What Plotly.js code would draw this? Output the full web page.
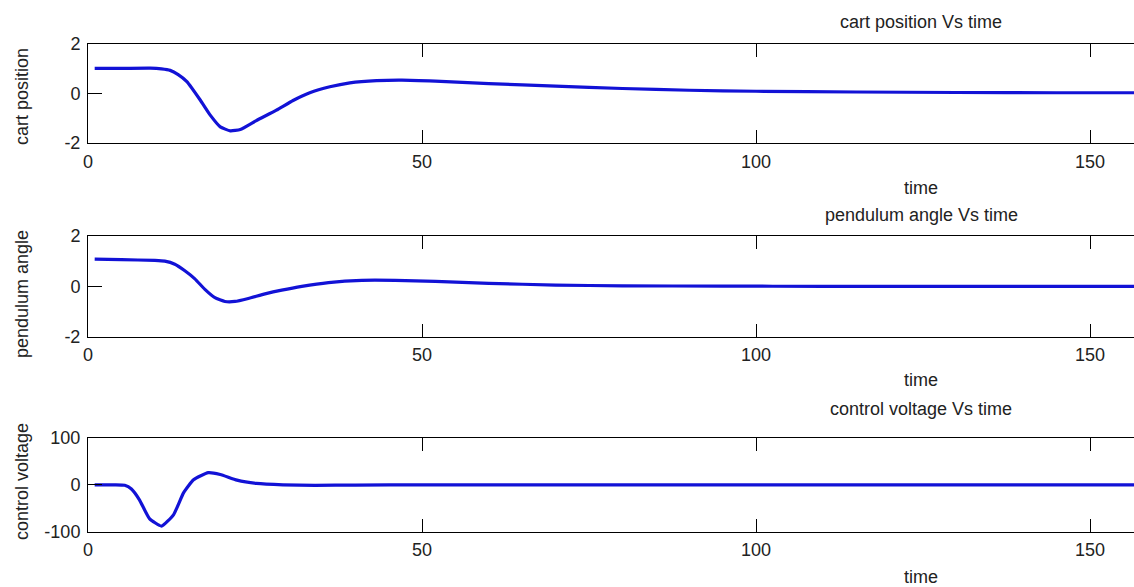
<!DOCTYPE html>
<html>
<head>
<meta charset="utf-8">
<script src="https://cdn.plot.ly/plotly-3.0.1.min.js"></script>
<style>html,body{margin:0;padding:0;background:#fff;overflow:hidden}</style>
</head>
<body>
<div id="chart" style="width:1134px;height:587px"></div>
<script>
// Cart position
const tCart = [1,5,9.3,11,12.3,13.5,14.8,16.8,18.3,19.8,21.3,22.8,25.2,28.2,30.7,33.2,36.2,39.2,43.2,47,52,60,70,80,90,100,115,130,145,157];
const cartPosition = [1,1,1.01,0.98,0.92,0.75,0.47,-0.27,-0.88,-1.35,-1.51,-1.46,-1.1,-0.68,-0.29,0.02,0.26,0.42,0.51,0.53,0.49,0.39,0.29,0.19,0.12,0.08,0.05,0.03,0.02,0.02];
// Pendulum angle
const tPend = [1,5,10,11.5,13,14.5,16,17.5,19,20.5,22,24,26.5,29,32,36,41,46,52,60,70,80,95,110,130,157];
const pendulumAngle = [1.08,1.06,1.03,1.0,0.88,0.62,0.3,-0.12,-0.45,-0.6,-0.6,-0.48,-0.3,-0.15,0.0,0.15,0.24,0.24,0.2,0.12,0.05,0.02,0.01,0,0,0];
// Control voltage
const tVolt = [1,4,5.5,6.5,7.7,9.2,11,12.8,14.3,15.8,18,19.8,22.3,25.2,29.2,34,40,50,70,100,157];
const controlVoltage = [0,0,-1,-9,-32,-72,-88,-64,-17,11,26,22,10,3,0,-1,-0.5,0,0,0,0];

const xTicks = [0,50,100,150];
const yTicksAngle = [-2,0,2];
const yTickTextAngle = ["-2","0","2"];
const yTicksVolt = [-100,0,100];
const yTickTextVolt = ["-100","0","100"];

const titles = ["cart position Vs time","pendulum angle Vs time","control voltage Vs time"];
const yTitles = ["cart position","pendulum angle","control voltage"];
const xTitle = "time";

const W = 1134, H = 587;
const lineStyle = {color:'#1212d6', width:3.2, shape:'spline', smoothing:0.45};
const font = {family:'Liberation Sans, Arial, sans-serif', size:18, color:'#222'};

const traces = [
  {x:tCart, y:cartPosition, xaxis:'x', yaxis:'y', mode:'lines', line:lineStyle, hoverinfo:'skip'},
  {x:tPend, y:pendulumAngle, xaxis:'x2', yaxis:'y2', mode:'lines', line:lineStyle, hoverinfo:'skip'},
  {x:tVolt, y:controlVoltage, xaxis:'x3', yaxis:'y3', mode:'lines', line:lineStyle, hoverinfo:'skip'}
];

function py(px){return 1-px/H;}
const domains = [[py(143),py(43.5)],[py(336.7),py(236)],[py(531.7),py(438)]];
const xmax = (W-88)/(334/50);

function xa(anchor){
  return {range:[0,xmax], tickvals:xTicks, ticks:'inside', ticklen:13, tickcolor:'#000',
    showline:true, linecolor:'#000', linewidth:1, mirror:'allticks', showgrid:false, zeroline:false,
    anchor:anchor, tickfont:font, ticklabelstandoff:2, fixedrange:true};
}
function ya(dom, range, tv, tt, anchor){
  return {domain:dom, range:range, tickvals:tv, ticktext:tt, ticks:'inside', ticklen:14, tickcolor:'#000',
    showline:true, linecolor:'#000', linewidth:1, showgrid:false, zeroline:false,
    anchor:anchor, tickfont:font, ticklabelstandoff:3, fixedrange:true};
}

const annotations = [];
const titleY = [22, 215, 409];
const xTitleY = [188, 380, 577];
const yTitleY = [97, 294, 482];
for(let i=0;i<3;i++){
  annotations.push({text:titles[i], xref:'paper', yref:'paper', x:(921-88)/(W-88), y:py(titleY[i]), showarrow:false, font:font, xanchor:'center', yanchor:'middle'});
  annotations.push({text:xTitle, xref:'paper', yref:'paper', x:(921-88)/(W-88), y:py(xTitleY[i]), showarrow:false, font:font, xanchor:'center', yanchor:'middle'});
  annotations.push({text:yTitles[i], xref:'paper', yref:'paper', x:(22-88)/(W-88), y:py(yTitleY[i]), showarrow:false, font:font, textangle:-90, xanchor:'center', yanchor:'middle'});
}

const layout = {
  width:W, height:H, margin:{l:88, r:0, t:0, b:0},
  paper_bgcolor:'#fff', plot_bgcolor:'#fff', showlegend:false,
  font:font,
  xaxis: xa('y'), xaxis2: xa('y2'), xaxis3: xa('y3'),
  yaxis: ya(domains[0], [-2,2], yTicksAngle, yTickTextAngle, 'x'),
  yaxis2: ya(domains[1], [-2,2], yTicksAngle, yTickTextAngle, 'x2'),
  yaxis3: ya(domains[2], [-100,100], yTicksVolt, yTickTextVolt, 'x3'),
  annotations: annotations
};

Plotly.newPlot('chart', traces, layout, {displayModeBar:false, staticPlot:true});
</script>
</body>
</html>
